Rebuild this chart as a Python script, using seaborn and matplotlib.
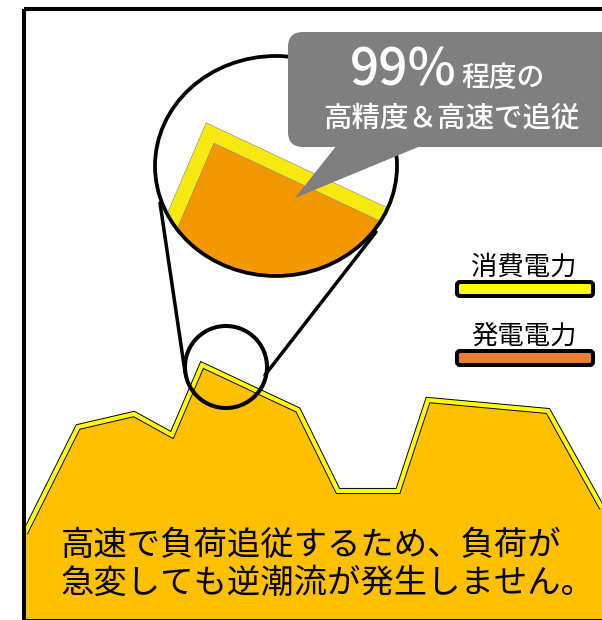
import matplotlib
matplotlib.use("Agg")
import matplotlib.pyplot as plt
import matplotlib.patheffects as pe
from matplotlib.patches import Ellipse, Circle, FancyBboxPatch, Polygon, Rectangle
import seaborn as sns

### data: load curve (time, power)
time_pts = [25, 78, 134, 172, 202, 298, 338, 398, 428, 548, 602]
consumption = [87, 193, 206, 185, 255, 210, 129, 129, 220, 209, 112]

legend_labels = ["消費電力", "発電電力"]
legend_colors = ["#FFFF00", "#ED7D31"]
bubble_big = "99%"
bubble_small = "程度の"
bubble_line2 = "高精度＆高速で追従"
caption = ["高速で負荷追従するため、負荷が", "急変しても逆潮流が発生しません。"]

sns.set_theme(style="white")
plt.rcParams['font.family'] = ['Noto Sans CJK JP', 'DejaVu Sans']

W, H = 602, 620
fig = plt.figure(figsize=(W / 100, H / 100), dpi=100)

### main chart
ax = fig.add_axes([0, 0, 1, 1])
ax.set_xlim(0, W)
ax.set_ylim(0, H)
ax.axis('off')
ax.fill_between(time_pts, 0, consumption, color='#FFC000', lw=0)
sns.lineplot(x=time_pts, y=consumption, sort=False, estimator=None, ax=ax,
             color='#FFFF00', lw=3)
ln = ax.lines[-1]
ln.set_solid_joinstyle('miter')
ln.set_solid_capstyle('butt')
ln.set_path_effects([pe.Stroke(linewidth=4.4, foreground='black'), pe.Normal()])

### magnified view (inside big ellipse)
ex, ey, ew, eh = 276, 166, 242, 220
ax_in = fig.add_axes([(ex - ew / 2) / W, (H - (ey + eh / 2)) / H, ew / W, eh / H])
ax_in.set_facecolor('none')
ax_in.axis('off')
zx, zy = 224, H - 376   # centre of the zoomed area
ax_in.set_xlim(zx - ew / 6, zx + ew / 6)
ax_in.set_ylim(zy - eh / 6, zy + eh / 6)
ax_in.fill_between(time_pts, 0, consumption, color='#F39800', edgecolor='#8a8a8a', lw=0.8)
sns.lineplot(x=time_pts, y=consumption, sort=False, estimator=None, ax=ax_in,
             color='#F5E90F', lw=10.5)
ln2 = ax_in.lines[-1]
ln2.set_solid_joinstyle('miter')
ln2.set_path_effects([pe.Stroke(linewidth=11.3, foreground='#8a8a8a'), pe.Normal()])
clip = Ellipse((0.5, 0.5), 1, 1, transform=ax_in.transAxes)
for art in ax_in.collections + ax_in.lines:
    art.set_clip_path(clip)

### decorations on top (pixel coords)
top = fig.add_axes([0, 0, 1, 1], zorder=5)
top.set_facecolor('none')
top.set_xlim(0, W)
top.set_ylim(H, 0)
top.axis('off')

top.add_patch(Rectangle((24, 9), 700, 612, fill=False, ec='black', lw=2.9))
top.add_patch(Ellipse((ex, ey), ew, eh, fill=False, ec='black', lw=2.7))
top.add_patch(Circle((226, 367), 41, fill=False, ec='black', lw=2.9))
top.plot([160, 185], [203, 372], color='black', lw=2.5)
top.plot([376, 265], [232, 375], color='black', lw=2.5)

# speech bubble
top.add_patch(FancyBboxPatch((288, 32), 400, 115, boxstyle="round,pad=0,rounding_size=15",
                             fc='#7F7F7F', ec='none'))
top.add_patch(Polygon([(337, 145), (423, 145), (295, 198)], closed=True, fc='#7F7F7F', ec='none'))
top.text(457, 86, bubble_big, color='white', fontsize=37, fontweight='medium',
         ha='right', va='baseline')
top.text(461, 86, bubble_small, color='white', fontsize=20, fontweight='medium',
         ha='left', va='baseline')
top.text(451, 118, bubble_line2, color='white', fontsize=20.5, fontweight='medium',
         ha='center', va='center')

# legend
for i, (lab, col) in enumerate(zip(legend_labels, legend_colors)):
    y0 = 282 + i * 69
    top.add_patch(FancyBboxPatch((457, y0), 136, 14, boxstyle="round,pad=0,rounding_size=3",
                                 fc=col, ec='black', lw=2.9))
    top.text(524, y0 - 15, lab, fontsize=19, ha='center', va='center', color='black')

# caption
for i, line in enumerate(caption):
    top.text(61, 545 + i * 38, line, fontsize=24, ha='left', va='center', color='black')

fig.savefig("out.png", dpi=100)
